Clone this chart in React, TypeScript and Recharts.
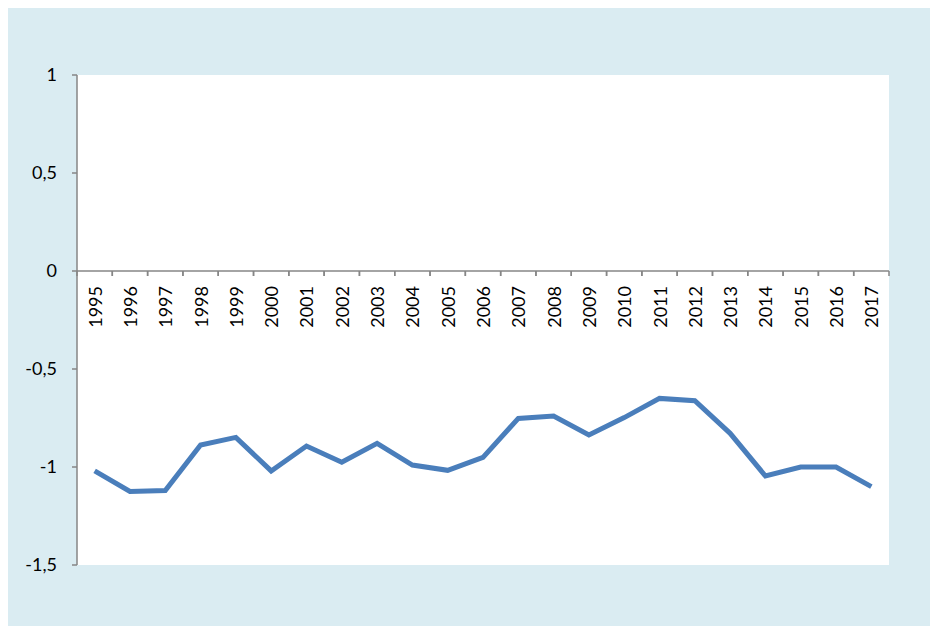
import React from 'react';
import { LineChart, Line, XAxis, YAxis, CartesianGrid } from 'recharts';

const years = ['1995','1996','1997','1998','1999','2000','2001','2002','2003','2004','2005','2006','2007','2008','2009','2010','2011','2012','2013','2014','2015','2016','2017'];
const values = [-1.02,-1.125,-1.12,-0.888,-0.849,-1.02,-0.893,-0.976,-0.879,-0.99,-1.017,-0.951,-0.752,-0.74,-0.837,-0.748,-0.65,-0.662,-0.828,-1.046,-1.0,-1.0,-1.1];
const yTicks = [-1.5,-1,-0.5,0,0.5,1];

const data = years.map((y, i) => ({ year: y, v: values[i] }));

const FONT = 'Lato, "Open Sans", sans-serif';
const AXIS = '#868686';

const XTick = (props: any) => {
  const { x, y, payload } = props;
  const off = payload && typeof payload.offset === 'number' ? payload.offset : 0;
  return (
    <g>
      <line x1={x - off} x2={x - off} y1={y} y2={y + 5} stroke={AXIS} strokeWidth={1.5} />
      <line x1={x + off} x2={x + off} y1={y} y2={y + 5} stroke={AXIS} strokeWidth={1.5} />
      <text
        transform={`translate(${x},${y + 15}) rotate(-90)`}
        textAnchor="end"
        dominantBaseline="central"
        fontFamily={FONT}
        fontSize={18}
        fill="#000"
      >
        {payload.value}
      </text>
    </g>
  );
};

export default function App() {
  return (
    <div style={{ position: 'relative', width: 930, height: 618, background: '#DAECF2' }}>
      <LineChart width={930} height={618} data={data} margin={{ top: 67, right: 49, bottom: 61, left: 0 }}>
        <CartesianGrid fill="#FFFFFF" stroke="none" horizontal={false} vertical={false} />
        <XAxis dataKey="year" scale="band" hide />
        <YAxis
          width={69}
          domain={[-1.5, 1]}
          ticks={yTicks}
          interval={0}
          tickFormatter={(v: number) => String(v).replace('.', ',')}
          axisLine={{ stroke: AXIS, strokeWidth: 1.5 }}
          tickLine={{ stroke: AXIS, strokeWidth: 1.5 }}
          tickSize={5}
          tickMargin={15}
          tick={{ fill: '#000', fontFamily: FONT, fontSize: 18 }}
        />
        <Line dataKey="v" stroke="#4A7EBB" strokeWidth={5} dot={false} isAnimationActive={false} />
      </LineChart>
      <div style={{ position: 'absolute', left: 0, top: 0, pointerEvents: 'none' }}>
        <LineChart width={930} height={323} data={data} margin={{ top: 67, right: 49, bottom: 0, left: 69 }}>
          <XAxis
            dataKey="year"
            scale="band"
            height={60}
            interval={0}
            tickSize={0}
            tickMargin={0}
            tickLine={false}
            axisLine={{ stroke: AXIS, strokeWidth: 1.5 }}
            tick={<XTick />}
          />
          <YAxis hide domain={[-1.5, 1]} />
          <Line dataKey="v" stroke="none" dot={false} isAnimationActive={false} />
        </LineChart>
      </div>
    </div>
  );
}
